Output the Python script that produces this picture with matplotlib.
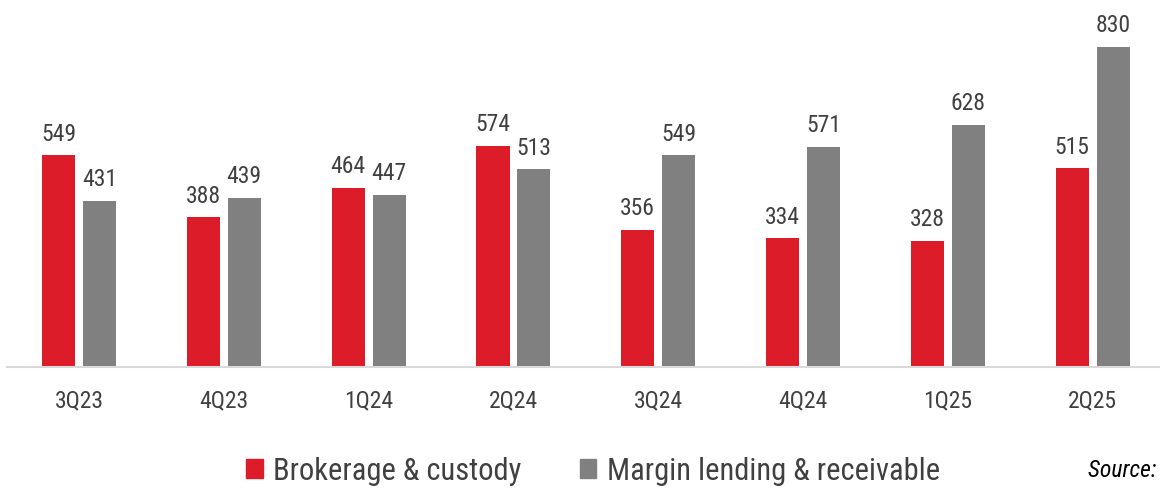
import matplotlib
matplotlib.use("Agg")
import matplotlib.pyplot as plt
from matplotlib.patches import Patch
import numpy as np

quarters = ["3Q23", "4Q23", "1Q24", "2Q24", "3Q24", "4Q24", "1Q25", "2Q25"]
brokerage = [549, 388, 464, 574, 356, 334, 328, 515]
margin = [431, 439, 447, 513, 549, 571, 628, 830]

red = "#DC1C28"
grey = "#808080"
txt = "#404040"

plt.rcParams["font.family"] = ["Liberation Sans Narrow", "Roboto Condensed",
                               "DejaVu Sans Condensed", "DejaVu Sans"]

fig = plt.figure(figsize=(11.6, 4.9), dpi=100)
ax = fig.add_axes([7 / 1160, 1 - 367 / 490, 1 - 7 / 1160, 367 / 490])

x = np.arange(len(quarters))
w = 0.228
off = 0.141
b1 = ax.bar(x - off, brokerage, w, color=red)
b2 = ax.bar(x + off, margin, w, color=grey)

for bars, vals in ((b1, brokerage), (b2, margin)):
    for b, v in zip(bars, vals):
        ax.annotate(str(v), (b.get_x() + b.get_width() / 2, v),
                    xytext=(0, 7), textcoords="offset points",
                    ha="center", va="bottom", fontsize=17, color=txt)

ax.set_xlim(-0.497, 7.465)
ax.set_ylim(0, 952)
ax.set_yticks([])
ax.set_xticks(x)
ax.set_xticklabels(quarters, fontsize=17, color=txt)
ax.tick_params(axis="x", length=0, pad=16)
for s in ["top", "right", "left"]:
    ax.spines[s].set_visible(False)
ax.spines["bottom"].set_color("#D9D9D9")
ax.spines["bottom"].set_linewidth(1.5)

handles = [Patch(color=red, label="Brokerage & custody"),
           Patch(color=grey, label="Margin lending & receivable")]
fig.legend(handles=handles, loc="center", bbox_to_anchor=(593 / 1160, 1 - 471 / 490),
           ncol=2, frameon=False, fontsize=22, handlelength=0.55, handleheight=0.55,
           handletextpad=0.35, columnspacing=1.9, labelcolor=txt)

fig.text(1088 / 1160, 1 - 470 / 490, "Source: company data", fontsize=17,
         style="italic", color="black", va="center", ha="left")

fig.savefig("out.png", dpi=100)
